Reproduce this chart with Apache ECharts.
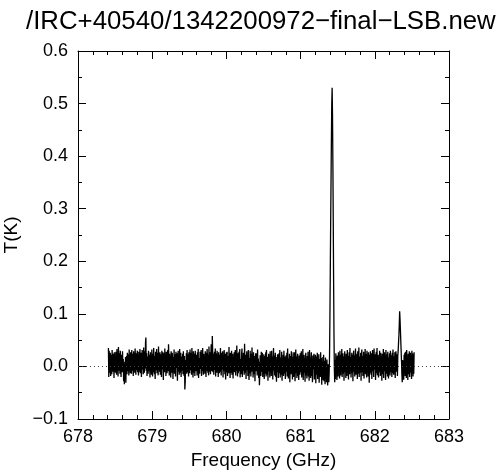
<!DOCTYPE html>
<html>
<head>
<meta charset="utf-8">
<script src="https://cdn.jsdelivr.net/npm/echarts@6/dist/echarts.min.js"></script>
<style>html,body{margin:0;padding:0;background:#fff;}#c{width:500px;height:473px;}</style>
</head>
<body>
<div id="c"></div>
<script>
var titleText = "/IRC+40540/1342200972\u2212final\u2212LSB.new";
var xTitle = "Frequency (GHz)";
var yTitle = "T(K)";
var xTicks = [678, 679, 680, 681, 682, 683];
var yTicks = [-0.1, 0.0, 0.1, 0.2, 0.3, 0.4, 0.5, 0.6];
var freqStart = 678.41;   // GHz, first channel
var freqStep = 0.005;     // GHz, channel width
var tValues = [
 0.035,-0.020,0.030,-0.012,0.004,0.026,-0.018,0.022,0.008,-0.015,0.031,0.002,-0.010,0.024,0.015,-0.022,0.027,-0.005,0.018,-0.012,
 0.028,0.010,-0.016,0.033,-0.004,0.020,-0.019,0.037,0.012,-0.008,0.025,-0.014,0.030,0.005,-0.020,0.022,0.016,-0.011,0.029,-0.006,
 0.014,-0.028,0.009,-0.034,0.002,-0.022,0.018,-0.031,0.006,0.020,-0.015,0.026,-0.009,0.023,0.011,-0.017,0.032,-0.003,0.019,-0.013,
 0.027,0.006,-0.014,0.031,-0.008,0.016,0.024,-0.018,0.029,-0.002,0.021,-0.012,0.034,0.009,-0.016,0.025,-0.007,0.019,0.030,-0.011,
 0.022,-0.017,0.028,0.004,-0.010,0.033,-0.013,0.018,0.026,-0.020,0.015,0.031,-0.006,0.024,-0.015,0.036,0.008,-0.012,0.029,-0.004,
 0.046,0.055,-0.008,0.025,-0.018,0.019,0.007,-0.014,0.030,-0.009,0.022,0.013,-0.021,0.027,-0.003,0.017,-0.016,0.032,0.005,-0.019,
 0.024,-0.011,0.035,0.002,-0.015,0.020,-0.024,0.028,0.010,-0.007,0.033,-0.013,0.018,0.026,-0.017,0.038,-0.002,0.021,-0.010,0.027,
 -0.016,0.023,0.008,-0.020,0.030,-0.006,0.016,0.027,-0.026,0.012,0.025,-0.011,0.034,-0.004,0.019,-0.018,0.028,0.006,-0.013,0.022,
 0.031,-0.009,0.042,0.015,-0.017,0.024,-0.005,0.020,-0.021,0.029,0.003,-0.012,0.026,0.011,-0.024,0.018,-0.008,0.032,-0.014,0.023,
 0.009,-0.019,0.028,-0.003,0.017,0.025,-0.027,0.014,0.030,-0.010,0.021,-0.016,0.033,0.007,-0.012,0.026,-0.020,0.019,0.012,-0.008,
 0.024,-0.015,0.029,0.004,-0.018,0.020,-0.044,-0.030,0.012,-0.009,0.025,-0.014,0.031,0.006,-0.011,0.023,-0.019,0.027,0.002,-0.013,
 0.032,-0.007,0.018,0.026,-0.016,0.035,-0.010,0.014,-0.021,0.029,0.009,-0.012,0.024,-0.018,0.030,0.004,-0.009,0.022,0.015,-0.017,
 0.027,-0.011,0.033,-0.022,0.016,0.006,-0.014,0.028,-0.005,0.021,0.031,-0.018,0.012,-0.009,0.035,0.003,-0.016,0.024,-0.006,0.019,
 -0.014,0.029,0.010,-0.020,0.026,-0.008,0.033,0.017,-0.012,0.022,-0.017,0.038,0.005,-0.010,0.027,-0.015,0.020,0.042,0.008,-0.009,
 0.058,0.030,-0.011,0.024,-0.016,0.019,0.028,-0.007,0.034,-0.019,0.013,0.025,-0.012,0.030,-0.004,0.021,-0.020,0.027,0.007,-0.013,
 0.022,-0.010,0.035,0.002,-0.017,0.026,-0.006,0.018,0.029,-0.021,0.011,-0.008,0.031,0.006,-0.015,0.024,-0.025,0.016,0.027,-0.011,
 0.028,-0.018,0.020,0.009,-0.013,0.037,-0.004,0.015,-0.022,0.026,0.003,-0.012,0.030,-0.016,0.019,0.024,-0.023,0.012,-0.006,0.027,
 -0.011,0.021,0.031,-0.017,0.010,-0.008,0.040,0.004,-0.019,0.025,-0.013,0.018,0.028,-0.009,0.033,-0.021,0.014,0.006,-0.015,0.024,
 0.034,-0.020,0.017,-0.008,0.026,0.010,-0.016,0.043,0.002,-0.012,0.022,-0.024,0.015,0.029,-0.007,0.019,-0.018,0.031,-0.003,-0.026,
 0.016,-0.013,0.030,0.005,-0.019,0.024,-0.010,0.036,-0.006,0.012,-0.021,0.027,0.001,-0.015,0.020,-0.028,0.014,0.025,-0.009,0.018,
 0.025,-0.017,0.032,-0.006,0.015,-0.022,0.009,-0.036,-0.012,0.021,0.004,-0.018,0.028,-0.010,0.017,0.026,-0.020,0.011,-0.007,0.023,
 -0.024,0.020,0.008,-0.014,0.027,-0.019,0.031,0.002,-0.016,0.018,-0.027,0.012,0.024,-0.009,0.016,-0.021,0.029,-0.004,0.013,-0.018,
 0.030,-0.012,0.019,-0.025,0.010,0.035,-0.008,0.021,-0.017,0.014,0.026,-0.020,0.006,-0.029,0.018,-0.011,0.023,0.003,-0.022,0.016,
 0.025,-0.013,0.031,-0.021,0.008,0.017,-0.016,0.028,-0.027,0.011,-0.005,0.022,-0.018,0.030,0.002,-0.014,0.019,-0.024,0.013,0.021,
 -0.010,0.026,-0.019,0.034,0.004,-0.023,0.015,-0.012,0.024,-0.030,0.009,0.020,-0.015,0.029,-0.006,0.018,-0.025,0.011,0.027,-0.020,
 0.012,-0.017,0.027,-0.028,0.006,0.032,-0.013,0.019,-0.022,0.008,0.024,-0.018,0.014,-0.026,0.021,0.001,-0.016,0.025,-0.011,0.017,
 0.029,-0.021,0.010,-0.014,0.033,-0.026,0.005,0.022,-0.012,0.015,-0.029,0.018,0.026,-0.017,0.007,-0.023,0.020,-0.008,0.028,-0.019,
 0.013,-0.027,0.031,-0.011,0.004,-0.022,0.016,0.027,-0.018,0.009,-0.030,0.021,-0.006,0.012,0.024,-0.025,0.017,-0.014,0.022,-0.032,
 0.006,0.019,-0.016,0.026,-0.024,0.010,-0.008,0.023,-0.031,0.014,0.001,-0.020,0.027,-0.013,0.016,-0.035,0.008,-0.019,0.018,-0.026,
 0.022,-0.028,0.011,-0.016,-0.034,0.017,-0.022,0.009,-0.030,0.013,-0.019,-0.036,0.004,-0.025,-0.030,-0.012,0.020,0.090,0.180,0.270,
 0.350,0.430,0.500,0.530,0.480,0.390,0.280,0.160,0.060,-0.005,-0.030,0.012,-0.024,0.025,-0.010,0.018,-0.026,0.021,0.003,-0.019,
 0.027,-0.012,0.016,-0.023,0.030,0.004,-0.017,0.022,-0.008,0.033,-0.020,0.011,0.025,-0.014,0.019,-0.027,0.008,0.029,-0.011,0.015,
 -0.022,0.024,0.006,-0.018,0.031,-0.009,0.020,-0.025,0.013,0.027,-0.015,0.035,-0.004,0.018,-0.021,0.010,0.026,-0.013,0.022,-0.028,
 0.017,0.030,-0.010,0.021,-0.019,0.008,0.034,-0.016,0.024,-0.006,0.013,-0.024,0.029,0.002,-0.014,0.036,-0.020,0.019,0.009,-0.012,
 0.026,-0.027,0.015,0.032,-0.011,0.020,-0.018,0.005,0.028,-0.023,0.017,-0.008,0.033,-0.015,0.011,0.024,-0.021,0.030,-0.004,0.016,
 -0.019,0.027,0.010,-0.031,0.022,-0.012,0.029,0.003,-0.016,0.025,-0.024,0.014,0.031,-0.009,0.019,-0.020,0.034,-0.006,0.012,0.023,
 -0.026,0.018,0.028,-0.013,0.035,-0.017,0.007,0.022,-0.021,0.016,-0.010,0.030,0.001,-0.018,0.026,-0.012,0.020,-0.027,0.024,0.009,
 -0.015,0.033,-0.022,0.013,0.027,-0.009,0.019,-0.026,0.031,0.004,-0.014,0.023,-0.019,0.028,0.010,-0.023,0.017,-0.007,0.025,-0.017,
 0.030,-0.011,0.021,0.006,-0.020,0.026,-0.013,0.032,0.008,-0.016,0.019,-0.009,0.027,-0.022,0.015,0.029,-0.010,0.023,0.012,-0.018,
 0.020,0.030,0.045,0.060,0.080,0.105,0.090,0.070,0.050,0.030,0.010,-0.015,-0.030,0.012,-0.026,0.010,-0.025,0.022,-0.012,0.026,
 -0.018,0.028,0.004,-0.022,0.031,-0.010,0.017,-0.026,0.024,0.009,-0.015,0.029,-0.020,0.013,0.026,-0.012,0.021,-0.024,0.030,-0.008,
 0.025,-0.019,0.022,-0.014,0.027
];

var seriesData = tValues.map(function (t, i) {
  return [+(freqStart + i * freqStep).toFixed(3), t];
});

var FONT = '"Liberation Sans", Arial, Helvetica, sans-serif';
function yFmt(v) {
  var s = Math.abs(v).toFixed(1);
  return (v < -1e-9 ? '\u2212' : '') + s;
}
var tickStyle = { color: '#000', width: 1 };
function xAxisCfg(pos, showLabel) {
  return {
    type: 'value', position: pos,
    min: xTicks[0], max: xTicks[xTicks.length - 1], interval: 1,
    axisLine: { show: true, onZero: false, lineStyle: { color: '#000', width: 1 } },
    axisTick: { show: true, inside: true, length: 8, lineStyle: tickStyle },
    minorTick: { show: true, splitNumber: 5, length: 4, lineStyle: tickStyle },
    splitLine: { show: false },
    axisLabel: { show: showLabel, color: '#000', fontSize: 18, fontFamily: FONT, margin: 9 },
    name: showLabel ? xTitle : '', nameLocation: 'middle', nameGap: 32,
    nameTextStyle: { color: '#000', fontSize: 19, fontFamily: FONT }
  };
}
function yAxisCfg(pos, showLabel) {
  return {
    type: 'value', position: pos,
    min: yTicks[0], max: yTicks[yTicks.length - 1], interval: 0.1,
    axisLine: { show: true, onZero: false, lineStyle: { color: '#000', width: 1 } },
    axisTick: { show: true, inside: true, length: 8, lineStyle: tickStyle },
    minorTick: { show: true, splitNumber: 2, length: 4, lineStyle: tickStyle },
    splitLine: { show: false },
    axisLabel: { show: showLabel, color: '#000', fontSize: 18, fontFamily: FONT, margin: 10, formatter: yFmt },
    name: showLabel ? yTitle : '', nameLocation: 'middle', nameGap: 57, nameRotate: 90,
    nameTextStyle: { color: '#000', fontSize: 19, fontFamily: FONT }
  };
}

var chart = echarts.init(document.getElementById('c'), null, { renderer: 'canvas' });
chart.setOption({
  animation: false,
  backgroundColor: '#fff',
  title: {
    text: titleText, left: 21, top: 4,
    textStyle: { color: '#000', fontSize: 25.8, fontWeight: 'normal', fontFamily: FONT }
  },
  grid: { left: 78, right: 51, top: 51, bottom: 54, containLabel: false, outerBoundsMode: 'none' },
  xAxis: [xAxisCfg('bottom', true), xAxisCfg('top', false)],
  yAxis: [yAxisCfg('left', true), yAxisCfg('right', false)],
  series: [{
    type: 'line',
    xAxisIndex: 0, yAxisIndex: 0,
    data: seriesData,
    showSymbol: false, symbol: 'none',
    lineStyle: { color: '#000', width: 1.3 },
    z: 3,
    markLine: {
      silent: true, symbol: ['none', 'none'],
      label: { show: false },
      lineStyle: { type: [1, 3], color: '#444', width: 1 },
      data: [{ yAxis: 0 }]
    }
  }]
});
</script>
</body>
</html>
